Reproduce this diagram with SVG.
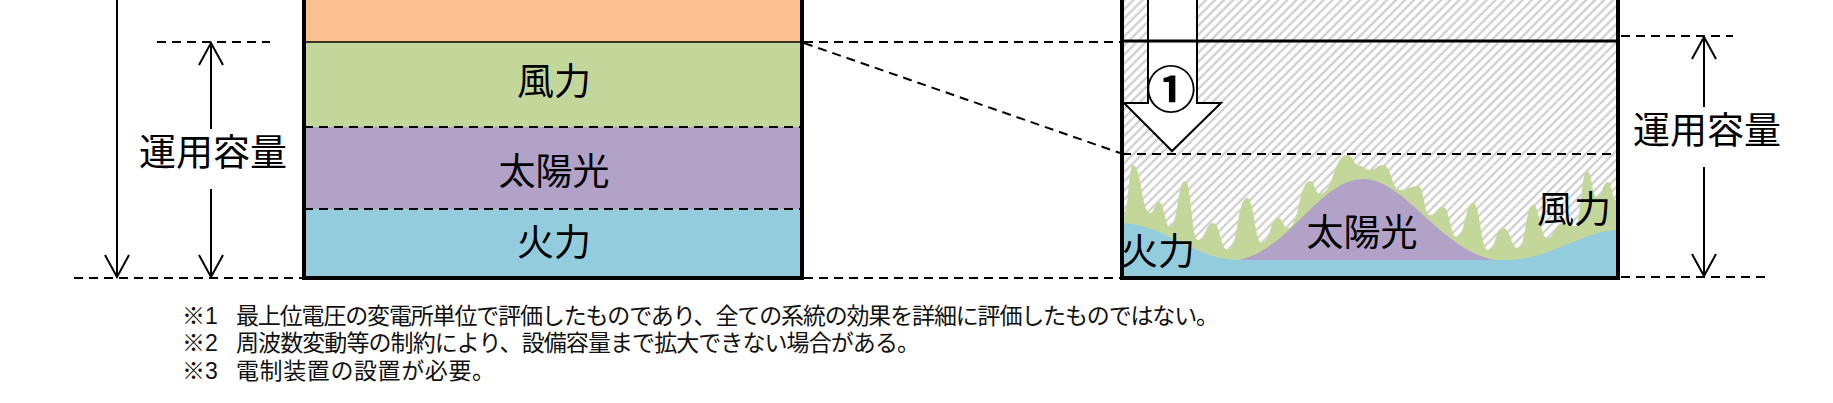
<svg xmlns="http://www.w3.org/2000/svg" width="1833" height="403" viewBox="0 0 1833 403">
<defs>
<pattern id="hatch" patternUnits="userSpaceOnUse" width="6.4" height="6.4" patternTransform="rotate(45)">
<rect width="6.4" height="6.4" fill="#ffffff"/>
<line x1="1.5" y1="0" x2="1.5" y2="6.4" stroke="#cdcdcd" stroke-width="2.2"/>
</pattern>
<marker id="vhead" viewBox="-24 -13 26 26" markerWidth="26" markerHeight="26" refX="0" refY="0" orient="auto" markerUnits="userSpaceOnUse">
<path d="M-22,-12 L0,0 L-22,12" fill="none" stroke="#000" stroke-width="2"/>
</marker>
</defs>
<style>
.dash{stroke:#000;stroke-width:2;stroke-dasharray:9 6;fill:none}
.thin{stroke:#000;stroke-width:2;fill:none}
.lbl{font-family:"Liberation Sans","Noto Sans CJK JP",sans-serif;font-size:37px;fill:#000;text-anchor:middle;dominant-baseline:central}
.note{font-family:"Liberation Sans","Noto Sans CJK JP",sans-serif;font-size:23px;fill:#111;dominant-baseline:central}
.frame{stroke:#000;stroke-width:4;fill:none}
</style>

<g id="left-box">
<rect x="304" y="-5" width="498" height="47" fill="#FAC090"/>
<rect x="304" y="42" width="498" height="85" fill="#C4D79B"/>
<rect x="304" y="127" width="498" height="82" fill="#B3A2C7"/>
<rect x="304" y="209" width="498" height="69" fill="#93CDDD"/>
<line x1="304" y1="42" x2="802" y2="42" stroke="#000" stroke-width="1.5"/>
<line x1="304" y1="127" x2="802" y2="127" class="dash"/>
<line x1="304" y1="209" x2="802" y2="209" class="dash"/>
<path d="M304,-5 L304,278 L802,278 L802,-5" class="frame"/>
<text x="554" y="82" class="lbl">風力</text>
<text x="554" y="172" class="lbl">太陽光</text>
<text x="554" y="243" class="lbl">火力</text>
</g>

<g id="right-box">
<rect x="1122" y="-5" width="496" height="283" fill="url(#hatch)"/>
<path d="M1124,276 L1124,212 C1128.5,212 1128.5,165 1133,165 C1141.5,165 1141.5,213 1150,213 C1154.5,213 1154.5,202 1159,202 C1164.5,202 1164.5,227 1170,227 C1177.5,227 1177.5,181 1185,181 C1191.5,181 1191.5,240 1198,240 C1205.5,240 1205.5,223 1213,223 C1220.5,223 1220.5,250 1228,250 C1237.5,250 1237.5,198 1247,198 C1254.5,198 1254.5,243 1262,243 C1270,243 1270,218 1278,218 C1283,218 1283,228 1288,228 C1299,228 1299,181 1310,181 C1315,181 1315,194 1320,194 C1333.5,194 1333.5,155 1347,155 C1353.5,155 1353.5,166 1360,166 C1365,166 1365,170 1370,170 C1376.5,170 1376.5,165 1383,165 C1391.5,165 1391.5,190 1400,190 C1409,190 1409,186 1418,186 C1424,186 1424,215 1430,215 C1436.5,215 1436.5,207 1443,207 C1450,207 1450,237 1457,237 C1465,237 1465,203 1473,203 C1480.5,203 1480.5,250 1488,250 C1495.5,250 1495.5,228 1503,228 C1510.5,228 1510.5,248 1518,248 C1525.5,248 1525.5,205 1533,205 C1540,205 1540,238 1547,238 C1554.5,238 1554.5,224 1562,224 C1568.5,224 1568.5,226 1575,226 C1581,226 1581,171 1587,171 C1592,171 1592,197 1597,197 C1602.5,197 1602.5,182 1608,182 C1612,182 1612,200 1616,200 L1616,276 Z" fill="#C4D79B"/>
<path d="M1238,260 C1290,250 1320,179 1363,179 C1405,179 1440,250 1495,260 Z" fill="#B3A2C7"/>
<path d="M1124,223 C1165,226 1195,258 1235,260 L1505,260 C1550,260 1580,232 1616,230 L1616,276 L1124,276 Z" fill="#93CDDD"/>
<line x1="1122" y1="154" x2="1618" y2="154" class="dash"/>
<path d="M1122,-5 L1122,278 L1618,278 L1618,-5" class="frame"/>
<text x="1158" y="252" class="lbl">火力</text>
<text x="1362" y="233" class="lbl">太陽光</text>
<text x="1574" y="210" class="lbl">風力</text>
</g>

<g id="arrow-1">
<path d="M1148,-5 L1148,103 L1124,103 L1172,151 L1221,103 L1197,103 L1197,-5" fill="#ffffff" stroke="#000" stroke-width="2" stroke-linejoin="miter"/>
<line x1="1122" y1="41" x2="1618" y2="41" stroke="#000" stroke-width="3"/>
<text x="1171" y="91" class="lbl" style="font-size:50px;font-weight:bold">①</text>
</g>

<g id="connectors">
<line x1="157" y1="42" x2="270" y2="42" class="dash"/>
<line x1="74" y1="278" x2="302" y2="278" class="dash"/>
<line x1="804" y1="42" x2="1120" y2="42" class="dash"/>
<line x1="804" y1="43" x2="1120" y2="153" class="dash"/>
<line x1="804" y1="278" x2="1120" y2="278" class="dash"/>
<line x1="1621" y1="36" x2="1733" y2="36" class="dash"/>
<line x1="1621" y1="277" x2="1770" y2="277" class="dash"/>
<line x1="117" y1="-5" x2="117" y2="277" class="thin" marker-end="url(#vhead)"/>
<line x1="211" y1="129" x2="211" y2="43" class="thin" marker-end="url(#vhead)"/>
<line x1="211" y1="189" x2="211" y2="277" class="thin" marker-end="url(#vhead)"/>
<line x1="1704" y1="107" x2="1704" y2="37" class="thin" marker-end="url(#vhead)"/>
<line x1="1704" y1="167" x2="1704" y2="276" class="thin" marker-end="url(#vhead)"/>
</g>

<g id="label-left">
<text x="213" y="153" class="lbl">運用容量</text>
</g>
<g id="label-right">
<text x="1707" y="131" class="lbl">運用容量</text>
</g>

<g id="notes">
<text class="note" y="316"><tspan x="182">※</tspan><tspan x="205">1</tspan><tspan x="236" textLength="983">最上位電圧の変電所単位で評価したものであり、全ての系統の効果を詳細に評価したものではない。</tspan></text>
<text class="note" y="343"><tspan x="182">※</tspan><tspan x="205">2</tspan><tspan x="236" textLength="684">周波数変動等の制約により、設備容量まで拡大できない場合がある。</tspan></text>
<text class="note" y="371"><tspan x="182">※</tspan><tspan x="205">3</tspan><tspan x="236" textLength="259">電制装置の設置が必要。</tspan></text>
</g>
</svg>
